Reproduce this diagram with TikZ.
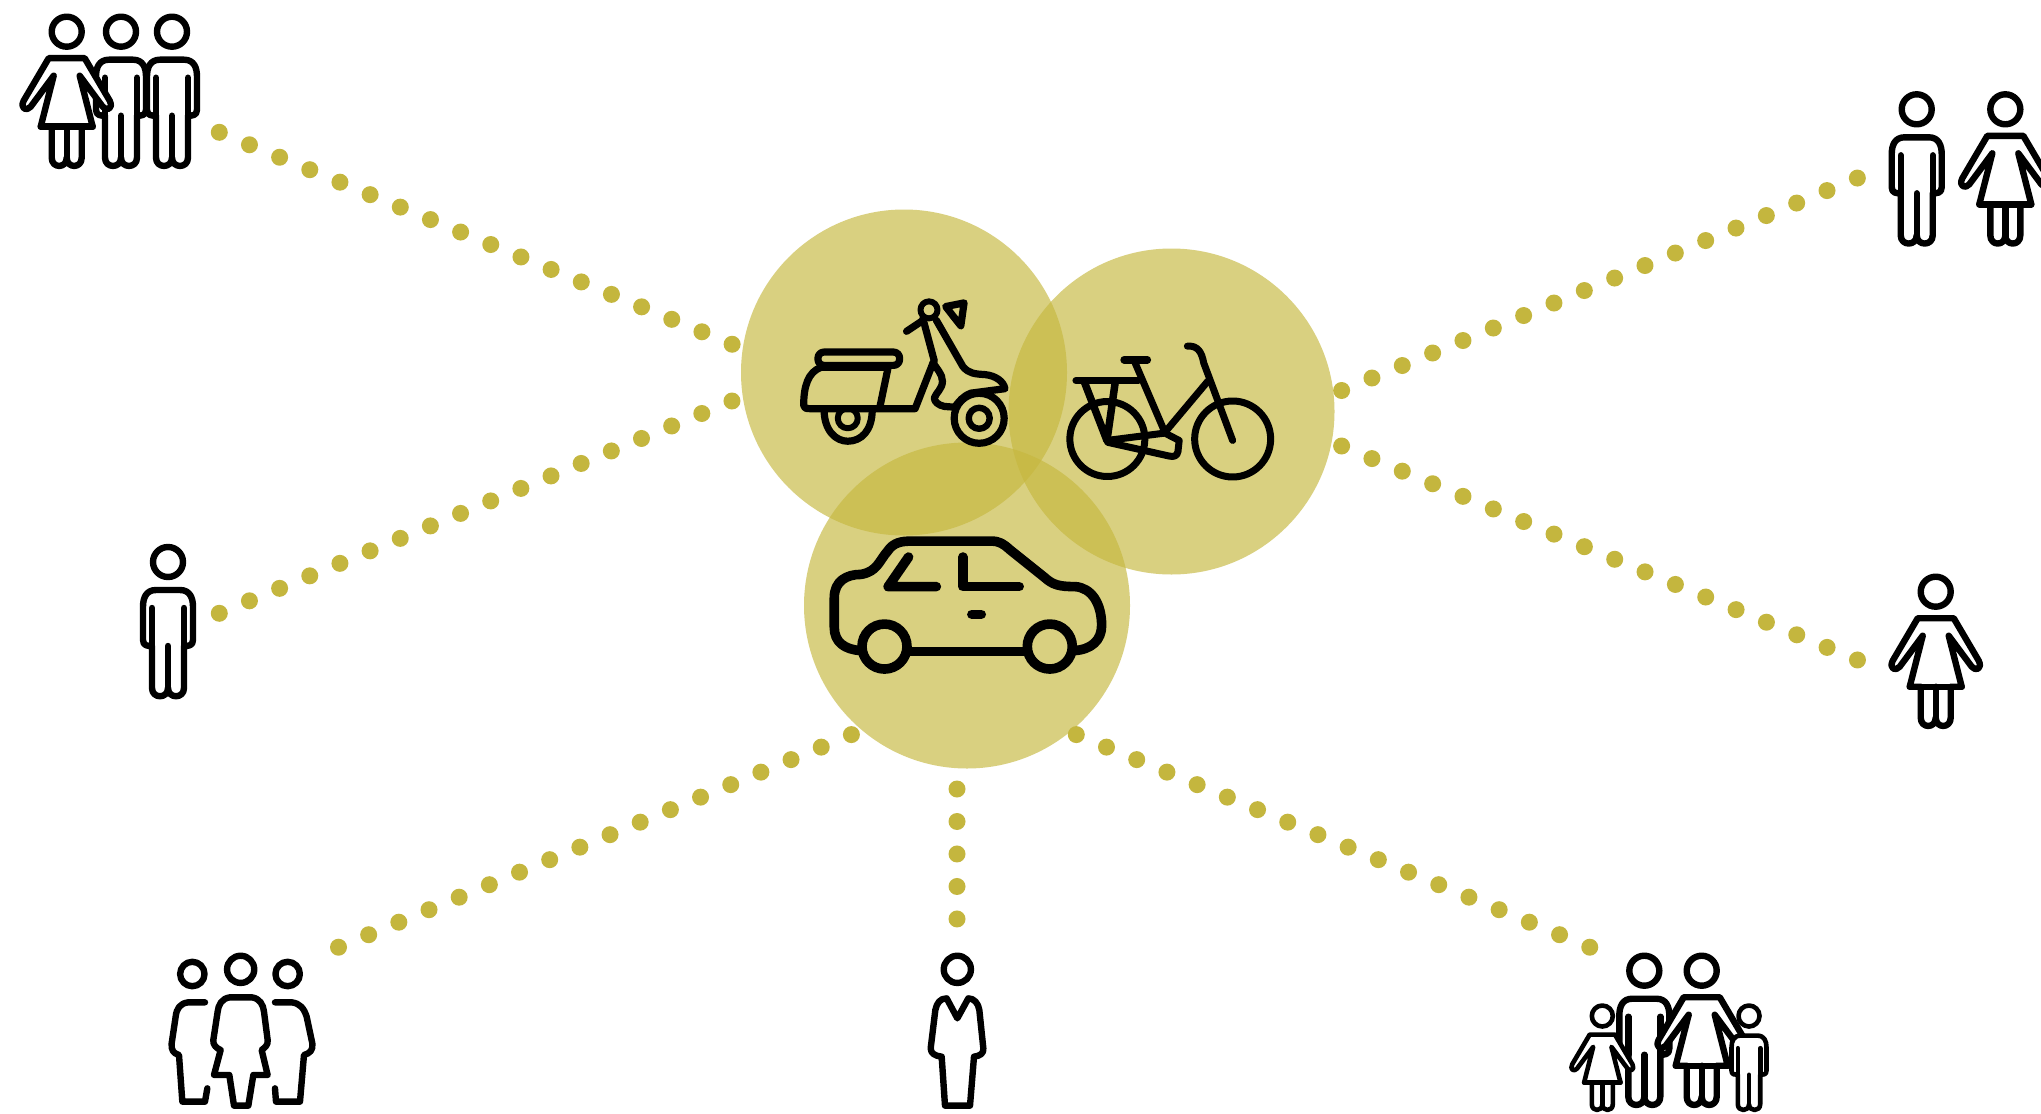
\documentclass[tikz,border=0pt]{standalone}
\definecolor{olive}{RGB}{198,184,63}
\definecolor{dotc}{RGB}{196,182,62}
\tikzset{
  x=1pt,y=-1pt,
  disc/.style={circle,fill=olive,fill opacity=.66,draw=none,inner sep=0pt,minimum size=326pt},
  dotline/.style={dotc,line width=17pt,line cap=round,dash pattern=on 0pt off #1pt},
  ink/.style={draw=black,line width=6.4pt,line cap=round,line join=round},
  inkfill/.style={ink,fill=white},
  man/.pic={
    \path[inkfill] (0,0) circle[radius=15];
    \path[inkfill] (-12,28) -- (12,28) .. controls (22,28) and (25,36) .. (25,45) -- (25,78)
      .. controls (25,84) and (20,84) .. (16,84) -- (16,126) .. controls (16,137) and (0,137) .. (0,126)
      .. controls (0,137) and (-16,137) .. (-16,126) -- (-16,84) .. controls (-20,84) and (-25,84) .. (-25,78)
      -- (-25,45) .. controls (-25,36) and (-22,28) .. (-12,28) -- cycle;
    \path[ink] (-16,46) -- (-16,84) (16,46) -- (16,84) (0,84) -- (0,126);
  },
  woman/.pic={
    \path[inkfill] (0,0) circle[radius=15];
    \path[inkfill] (-18,26.5) -- (18,26.5) -- (43,69) .. controls (47,77) and (40,80) .. (36,75)
      -- (13,44) -- (26,95) -- (15,95) -- (15,126) .. controls (15,137) and (0,137) .. (0,126)
      .. controls (0,137) and (-15,137) .. (-15,126) -- (-15,95) -- (-26,95) -- (-13,44)
      -- (-36,75) .. controls (-40,80) and (-47,77) .. (-43,69) -- cycle;
    \path[ink] (-26,95) -- (26,95) (0,95) -- (0,126);
  },
}
\begin{document}
\begin{tikzpicture}
\useasboundingbox (0,0) rectangle (2041,1113);
\clip (0,0) rectangle (2041,1113);
\fill[white] (0,0) rectangle (2041,1113);

% discs
\node[disc] (scooterdisc) at (904,372.5) {};
\node[disc] (bikedisc) at (1171.5,411.5) {};
\node[disc] (cardisc) at (967,605.5) {};

% connector ends
\coordinate (a1) at (219.3,132.3);  \coordinate (a2) at (732.2,344.3);
\coordinate (b1) at (219.3,613.3);  \coordinate (b2) at (732.2,400.9);
\coordinate (c1) at (1341.6,390.5); \coordinate (c2) at (1857.5,178);
\coordinate (d1) at (1341.6,446);   \coordinate (d2) at (1857.5,660);
\coordinate (e1) at (851.4,734.6);  \coordinate (e2) at (338.3,947.3);
\coordinate (f1) at (957,789);      \coordinate (f2) at (957,919);
\coordinate (g1) at (1076.3,734.6); \coordinate (g2) at (1590,947.3);
\draw[dotline=32.64] (a1) -- (a2);
\draw[dotline=32.64] (b1) -- (b2);
\draw[dotline=32.81] (c1) -- (c2);
\draw[dotline=32.85] (d1) -- (d2);
\draw[dotline=32.66] (e1) -- (e2);
\draw[dotline=32.49] (f1) -- (f2);
\draw[dotline=32.69] (g1) -- (g2);

% vehicles, in the crop's own stretched grid
\begin{scope}[shift={(720,200)},x=0.40816pt,y=-0.36996pt]
  % car
  \begin{scope}[ink,line width=9.6pt]
    \path[draw] (345,1218) .. controls (305,1215) and (280,1195) .. (280,1155) -- (280,1075)
      .. controls (280,1030) and (310,1012) .. (345,1012) .. controls (385,1005) and (390,975) .. (410,950)
      .. controls (425,925) and (445,922) .. (470,922) -- (665,922) .. controls (685,922) and (695,930) .. (710,945)
      -- (795,1020) .. controls (815,1040) and (830,1045) .. (870,1045)
      .. controls (910,1048) and (935,1090) .. (935,1150) .. controls (935,1190) and (910,1215) .. (868,1218);
    \path[draw] (465,1220) -- (745,1220);
    \path[draw] (403,1207) circle[radius=22.5pt];
    \path[draw] (808,1207) circle[radius=22.5pt];
    \path[draw] (462,965) -- (412,1045) -- (530,1045);
    \path[draw] (595,965) -- (595,1045) -- (733,1045);
    \path[draw] (617,1120) -- (640,1120);
  \end{scope}
  % scooter
  \begin{scope}[ink,line width=7.2pt]
    \path[draw,rounded corners=6pt] (240,411) -- (440,411) -- (440,447) -- (240,447) -- cycle;
    \path[draw] (248,452) -- (412,452) -- (392,558);
    \path[draw] (248,452) .. controls (215,465) and (205,505) .. (205,555) .. controls (205,562) and (210,564) .. (220,564)
      -- (478,564) -- (522,440);
    \path[draw] (255,566) .. controls (255,625) and (285,652) .. (313,652) .. controls (345,652) and (373,625) .. (373,566);
    \path[draw,line width=6pt] (313,590) circle[radius=10pt];
    \path[draw] (635,590) circle[radius=25pt];
    \path[draw,line width=6.4pt] (635,590) circle[radius=10.5pt];
    \path[draw,line width=6pt] (512,297) circle[radius=8.5pt];
    \path[draw] (457,355) -- (495,327);
    \path[draw] (497,320) -- (525,435);
    \path[draw] (530,325) -- (595,450) .. controls (610,470) and (625,470) .. (650,472)
      .. controls (675,475) and (695,490) .. (698,510) -- (615,522)
      .. controls (595,530) and (585,545) .. (575,560) -- (550,558) .. controls (535,555) and (525,545) .. (525,535)
      .. controls (530,520) and (545,510) .. (545,490) .. controls (545,470) and (530,455) .. (522,440);
    \path[draw] (553,288) -- (598,278) -- (590,340) -- (572,315) -- cycle;
  \end{scope}
  % bicycle
  \begin{scope}[ink,line width=7pt]
    \path[draw] (949,646) circle[radius=37.5pt];
    \path[draw] (1256,646) circle[radius=38pt];
    \path[draw] (872,488) -- (1025,488);
    \path[draw,line width=7.5pt] (892,490) -- (948,650) -- (968,495);
    \path[draw,line width=7.5pt] (990,432) -- (1047,432);
    \path[draw] (1015,435) -- (1090,628) -- (1195,490);
    \path[draw] (948,650) -- (1090,630) -- (1125,650) -- (1122,680) .. controls (1120,692) and (1112,695) .. (1100,692) -- (950,655);
    \path[draw] (1145,395) .. controls (1170,393) and (1180,410) .. (1185,440) -- (1256,650);
  \end{scope}
\end{scope}

% people
\pic at (121,31.7) {man};
\pic at (172,31.7) {man};
\pic at (66.7,31.7) {woman};
\pic at (1916.7,109.3) {man};
\pic at (2005.3,109.3) {woman};
\pic at (168,562) {man};
\pic at (1935.7,591.7) {woman};
\pic at (1644.3,970.7) {man};
\pic at (1701.7,970.7) {woman};
\pic[scale=.7,ink/.append style={line width=4.6pt}] at (1602.3,1016) {woman};
\pic[scale=.7,ink/.append style={line width=4.6pt}] at (1749,1016) {man};

% group of three, bottom left
\begin{scope}[shift={(150,940)},x=0.3333pt,y=-0.3333pt]
  \path[ink] (127,102) circle[radius=12.2pt];
  \path[ink] (272,88) circle[radius=13.6pt];
  \path[ink] (413,102) circle[radius=12.2pt];
  \path[ink] (165,187) -- (115,187) .. controls (90,190) and (80,205) .. (77,230) -- (65,310)
     .. controls (63,330) and (70,340) .. (87,345) -- (97,485) -- (165,485) -- (172,445);
  \path[ink] (375,187) -- (425,187) .. controls (450,190) and (462,205) .. (470,230) -- (487,310)
     .. controls (490,330) and (480,340) .. (462,345) -- (450,485) -- (378,485) -- (375,445);
  \path[ink] (240,172) -- (305,172) .. controls (330,175) and (340,195) .. (342,215) -- (353,300)
     .. controls (355,315) and (345,322) .. (335,330) -- (353,405) -- (310,405) -- (295,497) -- (252,497) -- (238,405)
     -- (192,405) -- (212,330) .. controls (200,325) and (188,315) .. (190,300) -- (203,215)
     .. controls (205,195) and (215,175) .. (240,172) -- cycle;
\end{scope}

% suit
\begin{scope}[shift={(900,940)},x=0.3333pt,y=-0.3333pt]
  \path[ink] (172,88) circle[radius=13.6pt];
  \path[ink] (172,235) -- (140,175) .. controls (120,175) and (110,190) .. (106,210) -- (92,325)
     .. controls (92,340) and (105,348) .. (125,350) -- (135,497) -- (210,497) -- (222,350)
     .. controls (240,348) and (252,340) .. (250,325) -- (238,210) .. controls (235,190) and (222,175) .. (205,175) -- cycle;
\end{scope}
\end{tikzpicture}
\end{document}
